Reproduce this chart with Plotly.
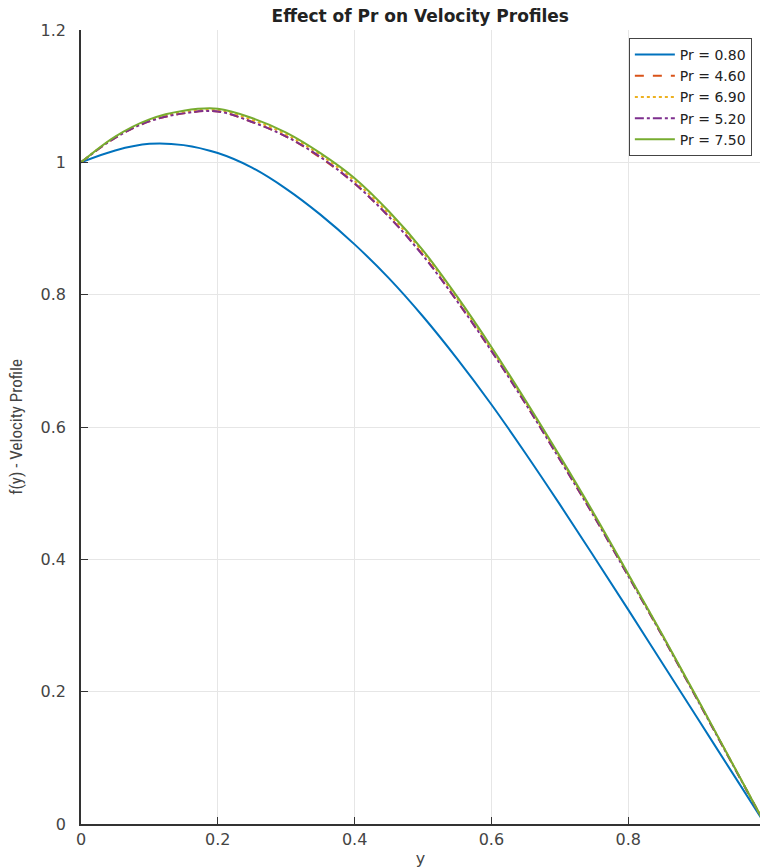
import plotly.graph_objects as go

y_pos = [0.0, 0.05, 0.10, 0.15, 0.20, 0.25, 0.30, 0.35, 0.40, 0.45, 0.50,
         0.55, 0.60, 0.65, 0.70, 0.75, 0.80, 0.85, 0.90, 0.95, 1.0]

f_pr080 = [1.000, 1.018, 1.028, 1.026, 1.014, 0.992, 0.960, 0.921, 0.876, 0.825, 0.767,
           0.703, 0.634, 0.560, 0.483, 0.404, 0.324, 0.243, 0.162, 0.081, 0.000]
f_pr460 = [1.000, 1.037, 1.062, 1.074, 1.077, 1.061, 1.039, 1.007, 0.968, 0.918, 0.860,
           0.790, 0.715, 0.635, 0.551, 0.465, 0.375, 0.284, 0.190, 0.095, 0.000]
f_pr690 = [1.000, 1.038, 1.063, 1.076, 1.079, 1.064, 1.042, 1.011, 0.972, 0.922, 0.864,
           0.794, 0.718, 0.638, 0.554, 0.467, 0.377, 0.285, 0.191, 0.096, 0.000]
f_pr520 = [1.000, 1.037, 1.062, 1.074, 1.077, 1.061, 1.039, 1.008, 0.968, 0.918, 0.859,
           0.790, 0.715, 0.635, 0.551, 0.465, 0.375, 0.284, 0.190, 0.095, 0.000]
f_pr750 = [1.000, 1.039, 1.065, 1.078, 1.081, 1.067, 1.045, 1.014, 0.976, 0.926, 0.867,
           0.797, 0.721, 0.640, 0.556, 0.469, 0.378, 0.286, 0.192, 0.096, 0.000]

series = [
    ("Pr = 0.80", f_pr080, "#0072BD", "solid"),
    ("Pr = 4.60", f_pr460, "#D95319", "dash"),
    ("Pr = 6.90", f_pr690, "#EDB120", "dot"),
    ("Pr = 5.20", f_pr520, "#7E2F8E", "dashdot"),
    ("Pr = 7.50", f_pr750, "#77AC30", "solid"),
]

fig = go.Figure()
for name, vals, color, dash in series:
    fig.add_trace(go.Scatter(
        x=y_pos, y=vals, mode="lines", name=name,
        line=dict(color=color, width=2, dash=dash, shape="spline", smoothing=1.0),
    ))

fig.update_layout(
    width=760, height=868,
    margin=dict(l=81, r=0, t=30, b=44),
    paper_bgcolor="white", plot_bgcolor="white",
    font=dict(family="DejaVu Sans, sans-serif", size=16, color="#444"),
    title=dict(text="<b>Effect of Pr on Velocity Profiles</b>", x=0.553, xanchor="center",
               y=0.9816, yanchor="middle", font=dict(size=17, color="#222")),
    showlegend=True,
    legend=dict(x=0.988, y=0.99, xanchor="right", yanchor="top",
                bgcolor="white", bordercolor="#444", borderwidth=1,
                font=dict(size=14, color="#222"), tracegroupgap=0,
                itemwidth=40),
)
fig.update_xaxes(
    range=[0, 0.9927], tickvals=[0, 0.2, 0.4, 0.6, 0.8], ticktext=["0", "0.2", "0.4", "0.6", "0.8"],
    showgrid=True, gridcolor="#e6e6e6", gridwidth=1,
    showline=True, linecolor="#333", linewidth=1.5,
    ticks="inside", ticklen=7, tickcolor="#333",
    zeroline=False, automargin=False,
    title=dict(text="y", font=dict(size=16, color="#444"), standoff=5),
)
fig.update_yaxes(
    range=[0, 1.2], tickvals=[0, 0.2, 0.4, 0.6, 0.8, 1.0, 1.2],
    ticktext=["0", "0.2", "0.4", "0.6", "0.8", "1", "1.2"],
    showgrid=True, gridcolor="#e6e6e6", gridwidth=1,
    showline=True, linecolor="#333", linewidth=1.5,
    ticks="inside", ticklen=7, tickcolor="#333",
    zeroline=False, ticklabelstandoff=10, automargin=False,
    title=dict(text="f(y) - Velocity Profile",
               font=dict(family="Liberation Sans Narrow, Roboto Condensed, sans-serif", size=17, color="#444"),
               standoff=14),
)

fig.write_html(
    "out.html",
    config={"displayModeBar": False},
    post_script="document.body.style.margin='0';document.body.style.overflow='hidden';",
)
